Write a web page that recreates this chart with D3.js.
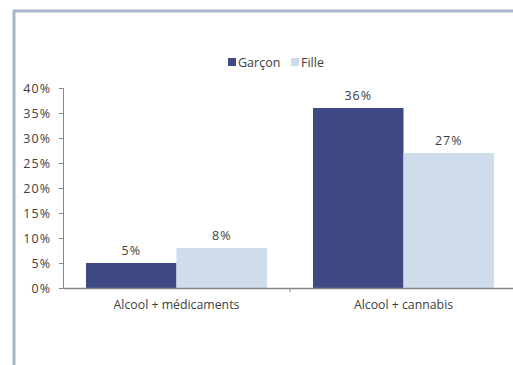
<!DOCTYPE html>
<html><head><meta charset="utf-8">
<script src="https://cdn.jsdelivr.net/npm/d3@7"></script>
<style>body{margin:0;background:#fff;overflow:hidden}svg{display:block}text{font-family:"Open Sans",sans-serif;fill:#404040}</style>
</head><body>
<script>
const categories = ["Alcool + médicaments", "Alcool + cannabis"];
const seriesNames = ["Garçon", "Fille"];
const garcon = [5, 36];
const fille = [8, 27];
const yTicks = [0, 5, 10, 15, 20, 25, 30, 35, 40];
const colors = ["#3f4a85", "#cfdcec"];

const W = 513, H = 365;
const svg = d3.select("body").append("svg").attr("width", W).attr("height", H);

// frame
svg.append("line").attr("x1", 13).attr("x2", W).attr("y1", 11).attr("y2", 11).attr("stroke", "#a7b6cc").attr("stroke-width", 3);
svg.append("line").attr("x1", 14).attr("x2", 14).attr("y1", 10).attr("y2", H).attr("stroke", "#a7b6cc").attr("stroke-width", 3);

const x0 = d3.scaleBand().domain(categories).range([63, 517]).paddingInner(0).paddingOuter(0);
const y = d3.scaleLinear().domain([0, 40]).range([288, 88]);
const groupPad = 23;
const x1 = d3.scaleBand().domain(seriesNames).range([groupPad, x0.bandwidth() - groupPad]).padding(0);

const data = categories.map((c, i) => ({cat: c, vals: [garcon[i], fille[i]]}));

const g = svg.append("g");
const groups = g.selectAll("g.grp").data(data).join("g").attr("transform", d => `translate(${x0(d.cat)},0)`);
groups.selectAll("rect").data(d => d.vals.map((v, j) => ({v, s: seriesNames[j], j}))).join("rect")
  .attr("x", d => x1(d.s)).attr("width", x1.bandwidth())
  .attr("y", d => y(d.v)).attr("height", d => y(0) - y(d.v))
  .attr("fill", d => colors[d.j]);
groups.selectAll("text.lbl").data(d => d.vals.map((v, j) => ({v, s: seriesNames[j], j}))).join("text")
  .attr("class", "lbl")
  .attr("x", d => x1(d.s) + x1.bandwidth() / 2).attr("y", d => y(d.v) - 8)
  .attr("text-anchor", "middle").attr("font-size", 12.5).attr("letter-spacing", 1).text(d => d.v + "%");

// y axis
const yAxis = d3.axisLeft(y).tickValues(yTicks).tickSize(4).tickFormat(d => d + "%");
const ya = svg.append("g").attr("transform", "translate(63,0)").call(yAxis);
ya.select(".domain").attr("stroke", "#868686");
ya.selectAll(".tick line").attr("stroke", "#868686");
ya.selectAll(".tick text").attr("font-size", 12.5).attr("letter-spacing", 1).attr("fill", "#404040").attr("x", -12).style("font-family", '"Open Sans",sans-serif');

// x axis
const xAxis = d3.axisBottom(x0).tickSize(0);
const xa = svg.append("g").attr("transform", "translate(0,288)").call(xAxis);
xa.select(".domain").attr("stroke", "#868686").attr("stroke-width", 1.5);
xa.selectAll(".tick text").attr("font-size", 12.3).attr("fill", "#404040").attr("dy", "1.5em").style("font-family", '"Open Sans",sans-serif');
// category separator tick marks
xa.selectAll("line.sep").data(categories.slice(1)).join("line").attr("class", "sep")
  .attr("x1", d => x0(d)).attr("x2", d => x0(d)).attr("y1", 0).attr("y2", 4).attr("stroke", "#868686");

// legend
const leg = svg.append("g");
const legX = [228, 291];
seriesNames.forEach((s, i) => {
  leg.append("rect").attr("x", legX[i]).attr("y", 58).attr("width", 8).attr("height", 8).attr("fill", colors[i]);
  leg.append("text").attr("x", legX[i] + 10).attr("y", 66.5).attr("font-size", 12.5).text(s);
});
</script>
</body></html>
